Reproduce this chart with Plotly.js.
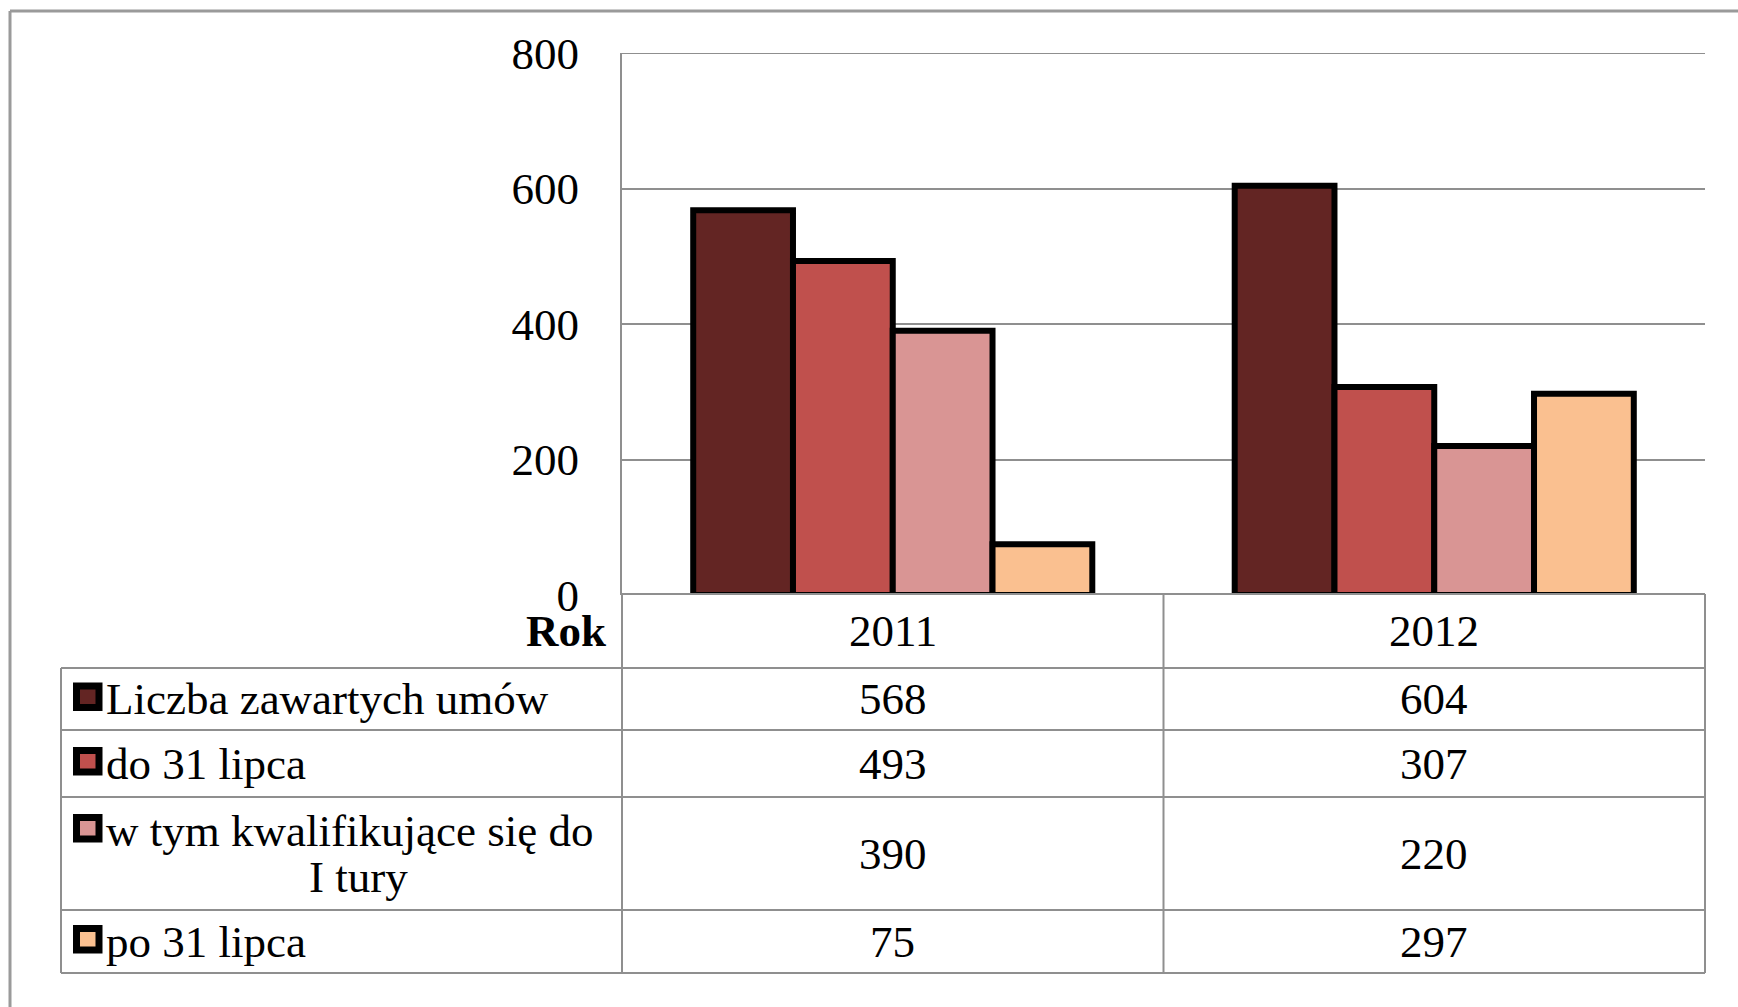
<!DOCTYPE html>
<html>
<head>
<meta charset="utf-8">
<script src="https://cdn.plot.ly/plotly-3.0.1.min.js"></script>
<style>html,body{margin:0;padding:0;background:#fff;}#chart{width:1738px;height:1007px;}</style>
</head>
<body>
<div id="chart"></div>
<script>
// ---- data ----
const years = ['2011', '2012'];
const seriesNames = ['Liczba zawartych umów', 'do 31 lipca', 'w tym kwalifikujące się do I tury', 'po 31 lipca'];
const labelLines = [['Liczba zawartych umów'], ['do 31 lipca'], ['w tym kwalifikujące się do', 'I tury'], ['po 31 lipca']];
const liczbaUmow = [568, 604];
const do31Lipca = [493, 307];
const wTymITury = [390, 220];
const po31Lipca = [75, 297];
const yTickVals = [0, 200, 400, 600, 800];
const headerLabel = 'Rok';

const seriesValues = [liczbaUmow, do31Lipca, wTymITury, po31Lipca];
const colors = ['#632523', '#C0504D', '#D99594', '#FAC090'];

// ---- geometry helpers (pixel -> paper) ----
const W = 1738, H = 1007, L = 622, R = 1705, T = 53, B = 595;
const px = x => (x - L) / (R - L);
const py = y => (B - y) / (B - T);
const FONT = 'Liberation Serif, Times New Roman, serif';
const FS = 45;
const GRID = '#8f8f8f';

const traces = seriesNames.map((name, i) => ({
  type: 'bar',
  name: name,
  x: years,
  y: seriesValues[i],
  marker: {color: colors[i], line: {color: '#000', width: 6}},
  hoverinfo: 'x+y+name'
}));

const shapes = [];
const annotations = [];
function hline(x0, x1, y, color, w) {
  shapes.push({type: 'line', xref: 'paper', yref: 'paper', x0: px(x0), x1: px(x1), y0: py(y), y1: py(y), line: {color: color || GRID, width: w || 2}, layer: 'above'});
}
function vline(x, y0, y1, color, w) {
  shapes.push({type: 'line', xref: 'paper', yref: 'paper', x0: px(x), x1: px(x), y0: py(y0), y1: py(y1), line: {color: color || GRID, width: w || 2}, layer: 'above'});
}

// outer frame (top & left edges visible)
hline(10, 1760, 11, '#9a9a9a', 3);
vline(10, 11, 1030, '#9a9a9a', 3);

// top gridline (at the upper range edge)
shapes.push({type: 'line', xref: 'paper', yref: 'y', x0: 0, x1: 1, y0: yTickVals[yTickVals.length - 1], y1: yTickVals[yTickVals.length - 1], line: {color: GRID, width: 2}, layer: 'below'});

// table grid
const rowEdges = [594, 668, 730, 797, 910, 973];
hline(L, R, rowEdges[0]);
for (let k = 1; k < rowEdges.length; k++) hline(61, R, rowEdges[k]);
vline(61, rowEdges[1], rowEdges[5]);
vline(L, rowEdges[0], rowEdges[5]);
vline(R, rowEdges[0], rowEdges[5]);
// divider between the two year columns, at the category boundary
shapes.push({type: 'line', xref: 'x', yref: 'paper', x0: 0.5, x1: 0.5, y0: py(rowEdges[0]), y1: py(rowEdges[5]), line: {color: GRID, width: 2}, layer: 'above'});

// header row
const headerY = (rowEdges[0] + rowEdges[1]) / 2;
annotations.push({xref: 'paper', yref: 'paper', x: px(608), y: py(headerY), xanchor: 'right', yanchor: 'middle', text: '<b>' + headerLabel + '</b>', showarrow: false, font: {family: FONT, size: FS, color: '#000'}});
years.forEach((yr, k) => {
  annotations.push({xref: 'x', yref: 'paper', x: k, y: py(headerY), xanchor: 'center', yanchor: 'middle', text: yr, showarrow: false, font: {family: FONT, size: FS, color: '#000'}});
});

// data rows
seriesNames.forEach((name, i) => {
  const top = rowEdges[i + 1], bot = rowEdges[i + 2];
  const lines = labelLines[i];
  const cy = (top + bot) / 2;
  const lineGap = 46;
  const firstY = cy - (lines.length - 1) * lineGap / 2;
  // legend swatch
  shapes.push({type: 'rect', xref: 'paper', yref: 'paper', x0: px(76.5), x1: px(99), y0: py(firstY + 8.5), y1: py(firstY - 13), fillcolor: colors[i], line: {color: '#000', width: 7}, layer: 'above'});
  lines.forEach((ln, j) => {
    annotations.push({xref: 'paper', yref: 'paper', x: j === 0 ? px(104) : px(358), y: py(firstY + j * lineGap), xanchor: j === 0 ? 'left' : 'center', yanchor: 'middle', text: ln, showarrow: false, font: {family: FONT, size: FS, color: '#000'}});
  });
  years.forEach((yr, k) => {
    annotations.push({xref: 'x', yref: 'paper', x: k, y: py(cy), xanchor: 'center', yanchor: 'middle', text: String(seriesValues[i][k]), showarrow: false, font: {family: FONT, size: FS, color: '#000'}});
  });
});

const layout = {
  width: W, height: H,
  margin: {l: L, r: W - R, t: T, b: H - B, pad: 0},
  paper_bgcolor: '#fff', plot_bgcolor: '#fff',
  showlegend: false,
  barmode: 'group', bargap: 0.263, bargroupgap: 0,
  xaxis: {type: 'category', range: [-0.5, years.length - 0.5], autorange: false, showticklabels: false, ticks: '', showgrid: false, zeroline: false, showline: false, fixedrange: true},
  yaxis: {range: [0, 800], autorange: false, tickvals: yTickVals, ticktext: yTickVals.map(String), showgrid: true, gridcolor: GRID, gridwidth: 2,
          showline: true, linecolor: GRID, linewidth: 2, zeroline: false, ticks: '', ticklabelstandoff: 32,
          tickfont: {family: FONT, size: FS, color: '#000'}, fixedrange: true},
  shapes: shapes,
  annotations: annotations,
  font: {family: FONT, color: '#000'}
};

Plotly.newPlot('chart', traces, layout, {displayModeBar: false, staticPlot: true});
</script>
</body>
</html>
